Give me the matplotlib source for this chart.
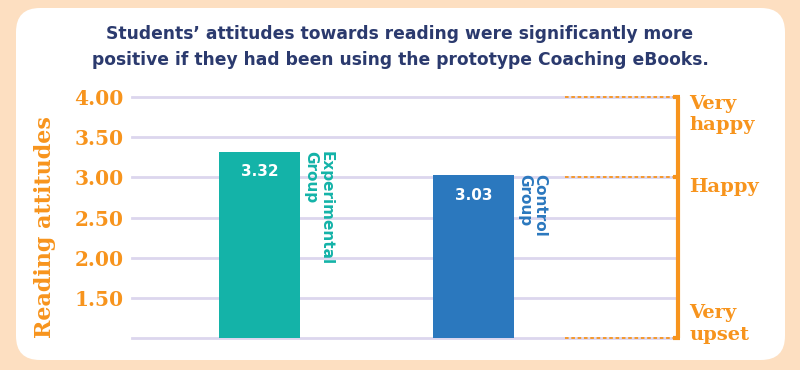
import matplotlib
matplotlib.use("Agg")
import matplotlib.pyplot as plt
from matplotlib.patches import FancyBboxPatch

# donnees
groupes = ["Experimental\nGroup", "Control\nGroup"]
valeurs = [3.32, 3.03]
etiquettes = ["3.32", "3.03"]
graduations = [1.50, 2.00, 2.50, 3.00, 3.50, 4.00]
humeurs = ["Very\nhappy", "Happy", "Very\nupset"]
niveaux_humeur = [4.00, 3.00, 1.00]

orange = "#F7941D"
couleurs = ["#14B3A8", "#2B78BE"]
titre = "Students\u2019 attitudes towards reading were significantly more\npositive if they had been using the prototype Coaching eBooks."

fig = plt.figure(figsize=(8, 3.7), dpi=100, facecolor="#FDDFC1")

# panneau blanc arrondi (derriere les axes)
panneau = FancyBboxPatch((16/800, 1-360/370), 769/800, 352/370,
                         boxstyle="round,pad=0,rounding_size=0.03",
                         transform=fig.transFigure, facecolor="white",
                         edgecolor="none", mutation_aspect=800/370, zorder=-10)
fig.patches.append(panneau)

fig.text(0.5, 1-47/370, titre, ha="center", va="center", fontsize=12.3,
         fontweight="bold", color="#2B3A6E", linespacing=1.6)

ax = fig.add_axes([132/800, 1-338/370, 544/800, 241/370])
ax.set_facecolor("none")
for s in ax.spines.values():
    s.set_visible(False)

ax.set_ylim(1.0, 4.0)
ax.set_xlim(-0.596, 1.946)

for g in [1.0] + graduations:
    ax.axhline(g, color="#DCD6EE", lw=2, zorder=0, clip_on=False)

x = list(range(len(valeurs)))
ax.bar(x, [v - 1.0 for v in valeurs], bottom=1.0, width=0.378,
       color=couleurs, zorder=2)

for i in x:
    ax.text(i, valeurs[i] - 0.25, etiquettes[i], ha="center", va="center",
            color="white", fontsize=11, fontweight="bold", zorder=3)
    ax.text(i + 0.205, valeurs[i] + 0.01, groupes[i], rotation=-90,
            ha="left", va="top", color=couleurs[i], fontsize=11,
            fontweight="bold", linespacing=1.0, zorder=3)

ax.set_yticks(graduations)
ax.set_yticklabels(["%.2f" % g for g in graduations], family="DejaVu Serif",
                   fontweight="bold", fontsize=14.5, color=orange)
ax.tick_params(axis="y", length=0, pad=6)
ax.set_xticks([])
ax.set_ylabel("Reading attitudes", family="DejaVu Serif", fontweight="bold",
              fontsize=16, color=orange)
ax.yaxis.set_label_coords(-0.14, 0.46)

# echelle d'humeur a droite
for n in niveaux_humeur:
    ax.plot([0.796, 1.0], [n, n], transform=ax.get_yaxis_transform(),
            color=orange, lw=1.3, ls=(0, (2, 1.5)), clip_on=False, zorder=1)
    ax.plot([0.995, 1.008], [n, n], transform=ax.get_yaxis_transform(),
            color=orange, lw=3, clip_on=False, solid_capstyle="butt")
ax.plot([1.004, 1.004], [1.0, 4.0], transform=ax.get_yaxis_transform(),
        color=orange, lw=3, clip_on=False, solid_capstyle="butt")

ax.text(1.025, 4.03, humeurs[0], transform=ax.get_yaxis_transform(), ha="left",
        va="top", family="DejaVu Serif", fontweight="bold", fontsize=14,
        color=orange, linespacing=1.25)
ax.text(1.025, 2.88, humeurs[1], transform=ax.get_yaxis_transform(), ha="left",
        va="center", family="DejaVu Serif", fontweight="bold", fontsize=14,
        color=orange)
ax.text(1.025, 0.93, humeurs[2], transform=ax.get_yaxis_transform(), ha="left",
        va="bottom", family="DejaVu Serif", fontweight="bold", fontsize=14,
        color=orange, linespacing=1.25)

fig.savefig("out.png", dpi=100, facecolor=fig.get_facecolor())
